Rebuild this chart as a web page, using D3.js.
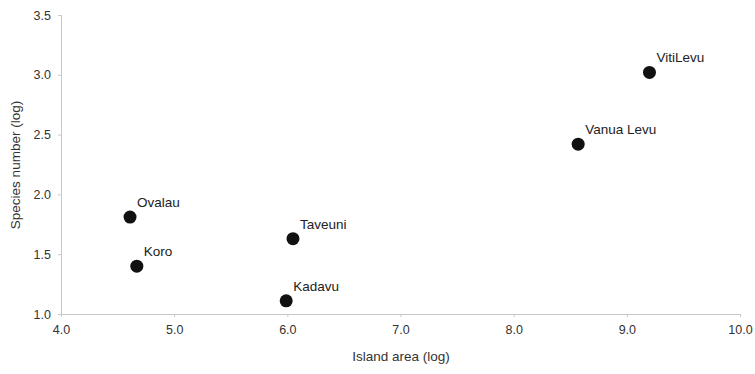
<!DOCTYPE html>
<html><head><meta charset="utf-8">
<script src="https://cdn.jsdelivr.net/npm/d3@7"></script>
<style>body{margin:0;background:#fff}text{font-family:"Liberation Sans",Arial,sans-serif}</style>
</head><body>
<svg id="c" width="755" height="374"></svg>
<script>
const islands = ["VitiLevu","Vanua Levu","Taveuni","Kadavu","Ovalau","Koro"];
const areaLog = [9.2, 8.57, 6.05, 5.99, 4.61, 4.67];
const speciesLog = [3.02, 2.42, 1.63, 1.11, 1.81, 1.40];
const xTicks = [4,5,6,7,8,9,10];
const yTicks = [1.0,1.5,2.0,2.5,3.0,3.5];

const svg = d3.select("#c");
const x = d3.scaleLinear().domain([4,10]).range([61,740]);
const y = d3.scaleLinear().domain([1,3.5]).range([314,15]);

const xa = svg.append("g").attr("transform","translate(0,314)")
  .call(d3.axisBottom(x).tickValues(xTicks).tickFormat(d3.format(".1f")).tickSize(3).tickPadding(8));
const ya = svg.append("g").attr("transform","translate(61,0)")
  .call(d3.axisLeft(y).tickValues(yTicks).tickFormat(d3.format(".1f")).tickSize(3).tickPadding(7));
[xa,ya].forEach(a=>{
  a.select(".domain").attr("stroke","#c8c8c8");
  a.selectAll(".tick line").attr("stroke","#c8c8c8");
  a.selectAll(".tick text").attr("fill","#333").style("font-size","12.5px");
});

svg.append("text").attr("x",401).attr("y",361).attr("text-anchor","middle")
  .attr("fill","#333").style("font-size","13.5px").text("Island area (log)");
svg.append("text").attr("transform","translate(20,165) rotate(-90)").attr("text-anchor","middle")
  .attr("fill","#333").style("font-size","13.5px").text("Species number (log)");

const g = svg.append("g");
islands.forEach((n,i)=>{
  g.append("circle").attr("cx",x(areaLog[i])).attr("cy",y(speciesLog[i])).attr("r",6.5).attr("fill","#111");
  g.append("text").attr("x",x(areaLog[i])+7).attr("y",y(speciesLog[i])-10)
    .attr("fill","#222").style("font-size","13.5px").text(n);
});
</script>
</body></html>
